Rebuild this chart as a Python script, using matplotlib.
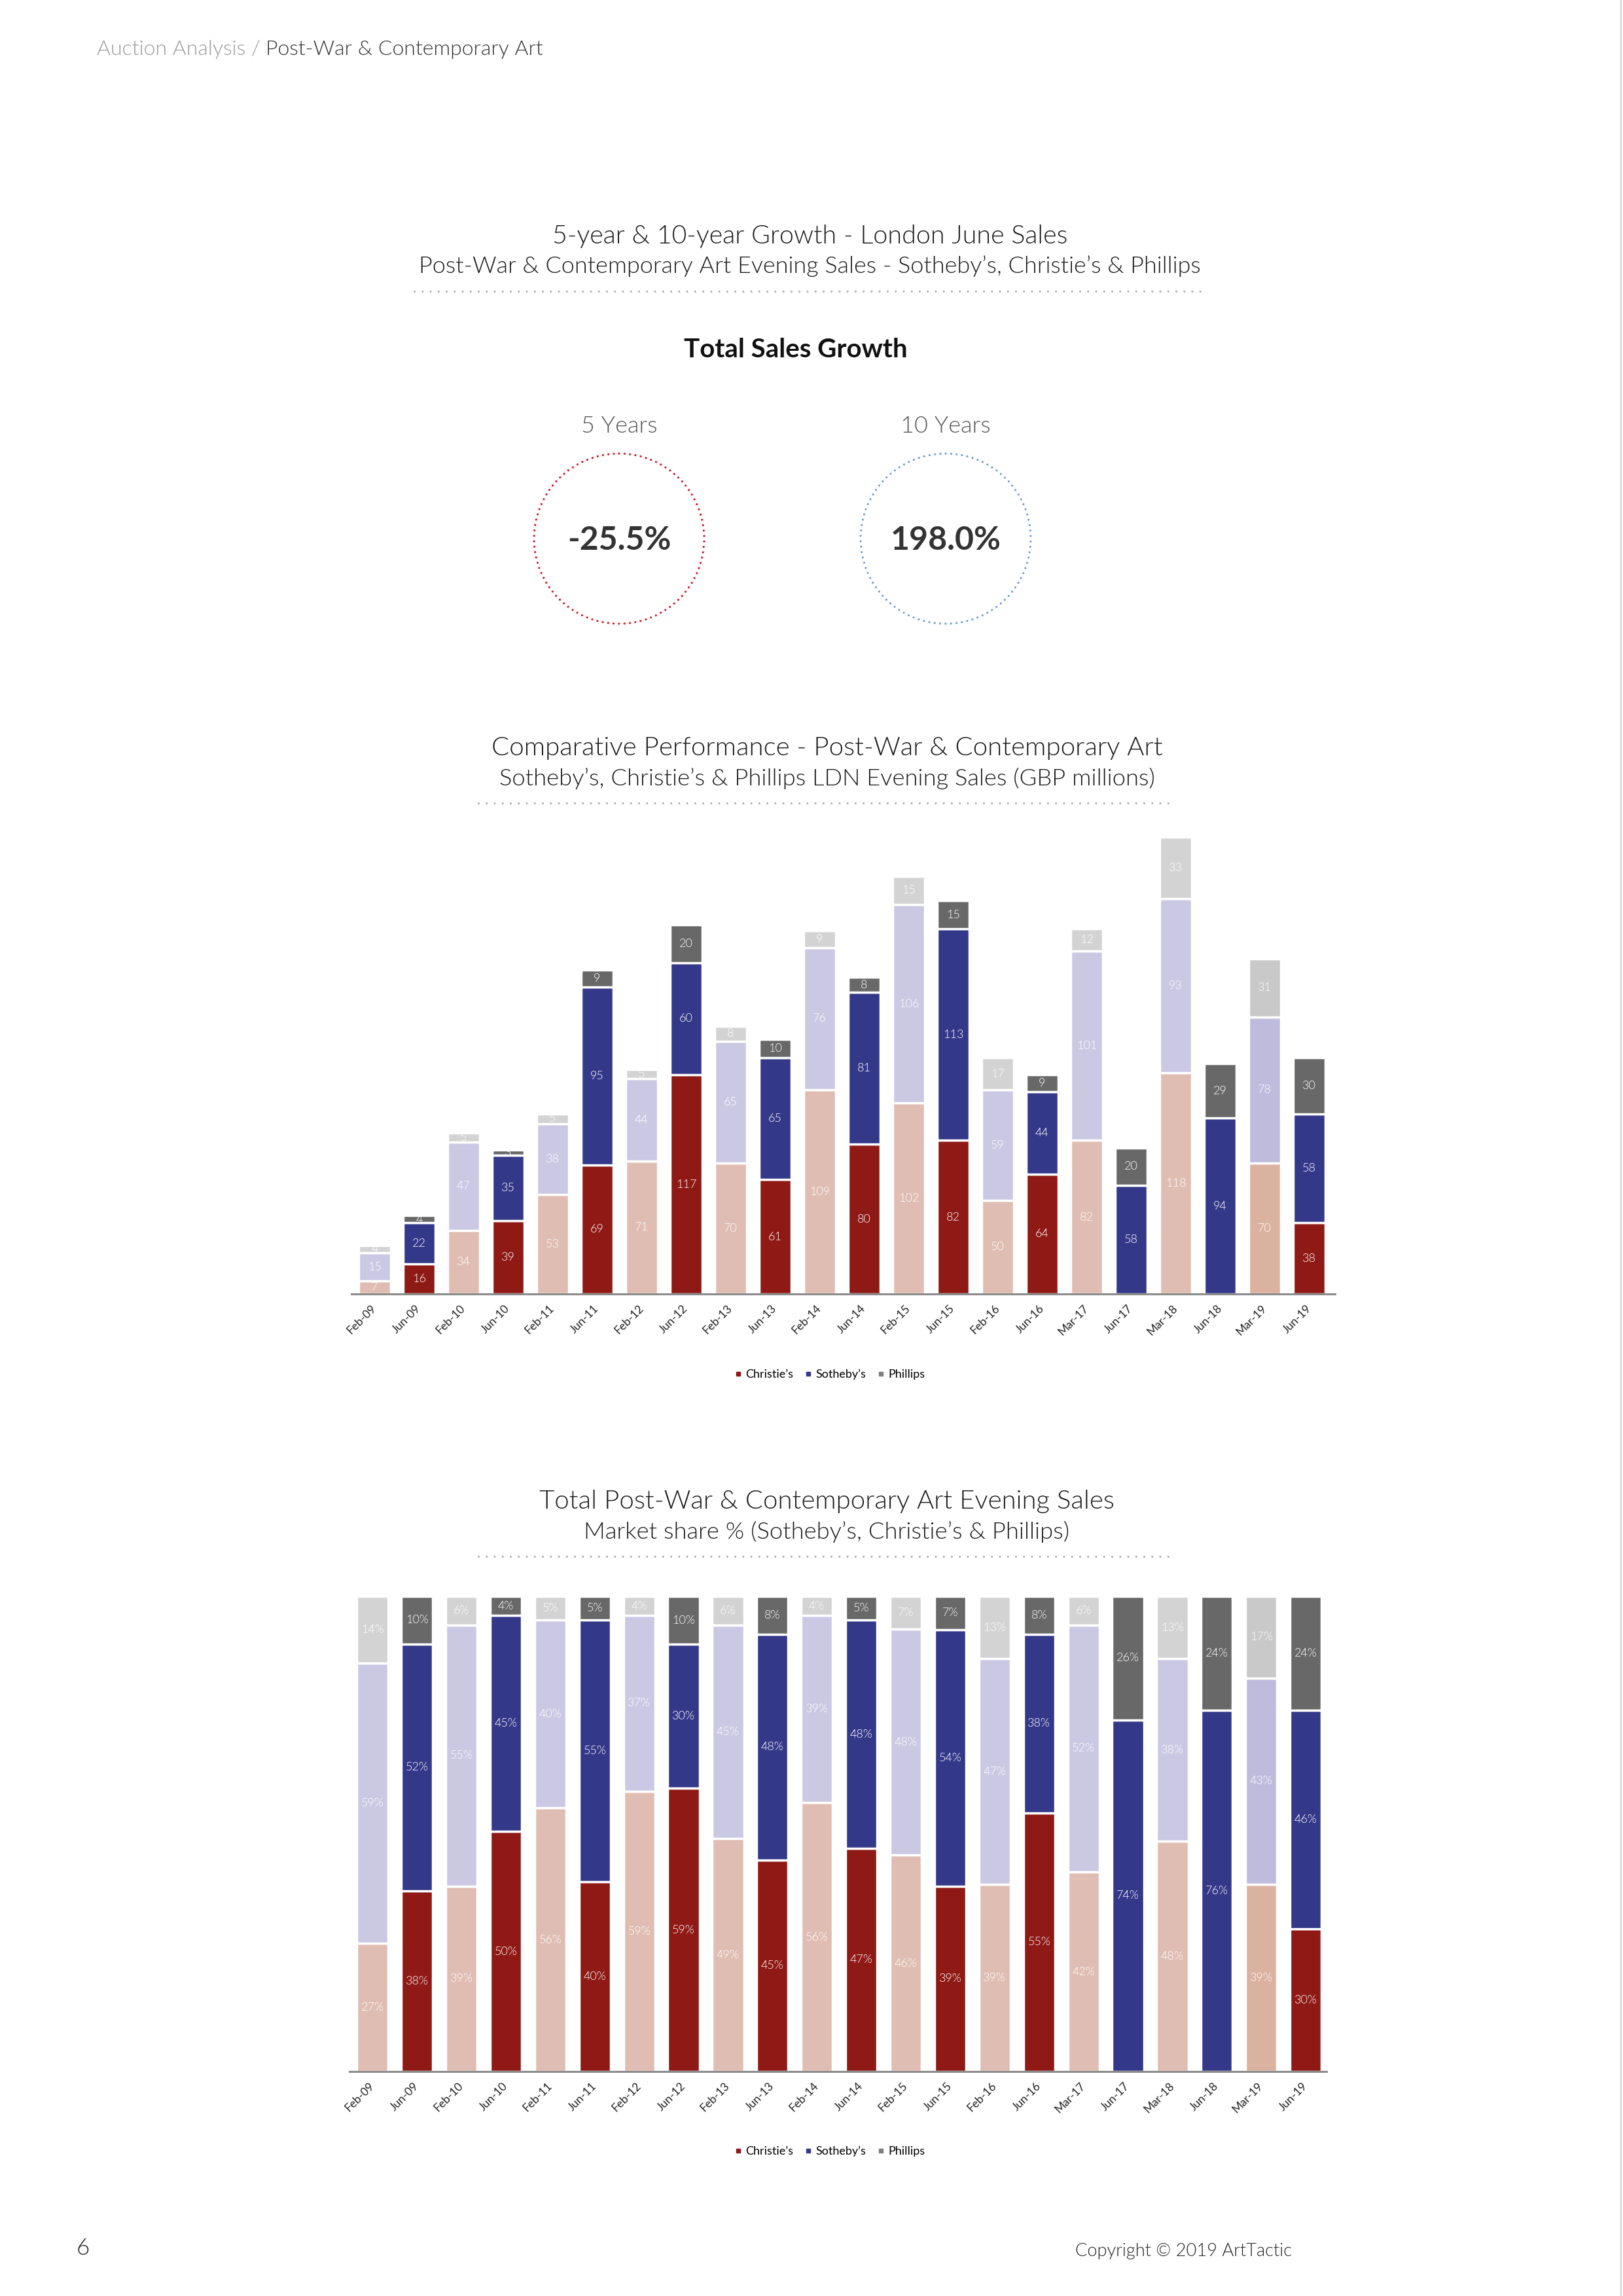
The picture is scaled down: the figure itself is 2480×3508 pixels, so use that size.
import matplotlib.pyplot as plt
from matplotlib import font_manager as fm
from matplotlib.patches import Circle
from matplotlib.lines import Line2D

# sale dates (Feb/Mar = light bars, Jun = dark bars)
sales = ['Feb-09', 'Jun-09', 'Feb-10', 'Jun-10', 'Feb-11', 'Jun-11', 'Feb-12', 'Jun-12',
         'Feb-13', 'Jun-13', 'Feb-14', 'Jun-14', 'Feb-15', 'Jun-15', 'Feb-16', 'Jun-16',
         'Mar-17', 'Jun-17', 'Mar-18', 'Jun-18', 'Mar-19', 'Jun-19']

# GBP millions
christies = [7, 16, 34, 39, 53, 69, 71, 117, 70, 61, 109, 80, 102, 82, 50, 64, 82, 0, 118, 0, 70, 38]
sothebys = [15, 22, 47, 35, 38, 95, 44, 60, 65, 65, 76, 81, 106, 113, 59, 44, 101, 58, 93, 94, 78, 58]
phillips = [4, 4, 5, 3, 5, 9, 5, 20, 8, 10, 9, 8, 15, 15, 17, 9, 12, 20, 33, 29, 31, 30]

# market share %
christies_pct = [27, 38, 39, 50, 56, 40, 59, 59, 49, 45, 56, 47, 46, 39, 39, 55, 42, 0, 48, 0, 39, 30]
sothebys_pct = [59, 52, 55, 45, 40, 55, 37, 30, 45, 48, 39, 48, 48, 54, 47, 38, 52, 74, 38, 76, 43, 46]
phillips_pct = [14, 10, 6, 4, 5, 5, 4, 10, 6, 8, 4, 5, 7, 7, 13, 8, 6, 26, 13, 24, 17, 24]

growth_labels = ['5 Years', '10 Years']
growth_values = [-25.5, 198.0]

plt.rcParams['font.family'] = ['Lato', 'DejaVu Sans']

# a light cut of Lato if it is installed, else the regular one
light_files = sorted(f.fname for f in fm.fontManager.ttflist
                     if f.name == 'Lato' and f.fname.lower().endswith('lato-light.ttf'))


def lf(size):
    if light_files:
        return fm.FontProperties(fname=light_files[0], size=size)
    return fm.FontProperties(family='Lato', size=size)


W, H = 2480, 3508
fig = plt.figure(figsize=(W / 100, H / 100), dpi=100)

dark = ['#8E1915', '#343889', '#686868']
light = ['#E0BDB2', '#CBC8E4', '#D3D3D3']
mar19 = ['#DBB2A0', '#BFBBDD', '#C9C9C9']


def colours(i):
    out = []
    for lab in sales:
        if lab.startswith('Jun'):
            out.append(dark[i])
        elif lab == 'Mar-19':
            out.append(mar19[i])
        else:
            out.append(light[i])
    return out


def stacked(ax, series, texts):
    x = list(range(len(sales)))
    bottom = [0] * len(sales)
    for i, (vals, labs) in enumerate(zip(series, texts)):
        bars = ax.bar(x, vals, 0.71, bottom=bottom, color=colours(i),
                      edgecolor='white', linewidth=2.5)
        for rect, v, s in zip(bars, vals, labs):
            if v == 0:
                continue
            t = ax.text(rect.get_x() + rect.get_width() / 2, rect.get_y() + rect.get_height() / 2,
                        s, ha='center', va='center', color='white', fontproperties=lf(13))
            t.set_clip_path(rect)
        bottom = [b + v for b, v in zip(bottom, vals)]
    ax.set_xticks(x)
    ax.set_xticklabels(sales, rotation=45, ha='right', va='center',
                       rotation_mode='anchor', fontsize=12.5, color='#222')
    ax.tick_params(axis='x', length=0, pad=14)
    ax.set_yticks([])
    for side in ['top', 'left', 'right']:
        ax.spines[side].set_visible(False)
    ax.spines['bottom'].set_color('#8c8c8c')
    ax.spines['bottom'].set_linewidth(2.2)


# page overlay in pixel coordinates
page = fig.add_axes([0, 0, 1, 1])
page.set_xlim(0, W)
page.set_ylim(H, 0)
page.axis('off')

t1 = page.text(148, 75, 'Auction Analysis /', fontproperties=lf(23), color='#9a9a9a',
               va='center', ha='left')
page.annotate('Post-War & Contemporary Art', xy=(1, 0.5), xycoords=t1, xytext=(6, 0),
              textcoords='offset points', fontproperties=lf(23), color='#333',
              va='center', ha='left')
page.plot([2477, 2477], [0, H], color='#d0d0d0', lw=1.5)


def heading(y, title, subtitle, x0, x1, size=28.4, subsize=25.9):
    xc = (x0 + x1) / 2
    page.text(xc, y, title, ha='center', va='center', fontproperties=lf(size), color='#1a1a1a')
    page.text(xc, y + 46, subtitle, ha='center', va='center', fontproperties=lf(subsize),
              color='#1a1a1a')
    page.plot([x0, x1], [y + 84, y + 84], color='#a8a8a8', lw=2.2,
              linestyle=(0, (0.01, 4)), dash_capstyle='round')


heading(361, '5-year & 10-year Growth - London June Sales',
        'Post-War & Contemporary Art Evening Sales - Sotheby\u2019s, Christie\u2019s & Phillips', 633, 1842)
page.text(1216, 534, 'Total Sales Growth', ha='center', va='center', fontsize=29,
          fontweight='bold', color='#111')

circle_cols = ['#D7101E', '#6F9BD2']
for cx, lab, val, col in zip([946, 1445], growth_labels, growth_values, circle_cols):
    page.text(cx, 651, lab, ha='center', va='center', fontproperties=lf(26), color='#555')
    c = Circle((cx, 823), 130, fill=False, edgecolor=col, lw=2.3, linestyle=(0, (0.01, 2.6)))
    c.set_capstyle('round')
    page.add_patch(c)
    page.text(cx, 826, f'{val:.1f}%', ha='center', va='center', fontsize=36,
              fontweight='bold', color='#333')

heading(1143, 'Comparative Performance - Post-War & Contemporary Art',
        'Sotheby\u2019s, Christie\u2019s & Phillips LDN Evening Sales (GBP millions)', 731, 1796,
        size=29.0, subsize=26.2)
heading(2294, 'Total Post-War & Contemporary Art Evening Sales',
        'Market share % (Sotheby\u2019s, Christie\u2019s & Phillips)', 731, 1796,
        size=28.9, subsize=26.2)

page.text(127, 3435, '6', ha='center', va='center', fontproperties=lf(25), color='#222')
page.text(1643, 3439, 'Copyright \u00a9 2019 ArtTactic', ha='left', va='center',
          fontproperties=lf(19.6), color='#222')

# chart 1: GBP millions
ax1 = fig.add_axes([537 / W, 1 - 1977 / H, 1503 / W, 707 / H])
stacked(ax1, [christies, sothebys, phillips],
        [[str(v) for v in christies], [str(v) for v in sothebys], [str(v) for v in phillips]])
ax1.set_xlim(-0.52, 21.58)
ax1.set_ylim(0, 247.1)

# chart 2: market share, normalised so every bar reaches 100
totals = [a + b + c for a, b, c in zip(christies_pct, sothebys_pct, phillips_pct)]
norm = [[v / t * 100 for v, t in zip(s, totals)] for s in [christies_pct, sothebys_pct, phillips_pct]]
ax2 = fig.add_axes([534 / W, 1 - 3165 / H, 1493 / W, 726 / H])
stacked(ax2, norm,
        [[f'{v}%' for v in christies_pct], [f'{v}%' for v in sothebys_pct], [f'{v}%' for v in phillips_pct]])
ax2.set_xlim(-0.52, 21.47)
ax2.set_ylim(0, 100)

handles = [Line2D([], [], marker='s', ls='', color=c, markersize=5)
           for c in ['#8E1915', '#343889', '#7F7F7F']]
names = ['Christie\u2019s', 'Sotheby\u2019s', 'Phillips']
for yc in [2100, 3287]:
    fig.legend(handles, names, loc='center', bbox_to_anchor=(1268 / W, 1 - yc / H), ncol=3,
               frameon=False, fontsize=13, handlelength=0.6, handletextpad=0.3,
               columnspacing=1.0)

fig.savefig('out.png', dpi=100, facecolor='white')
